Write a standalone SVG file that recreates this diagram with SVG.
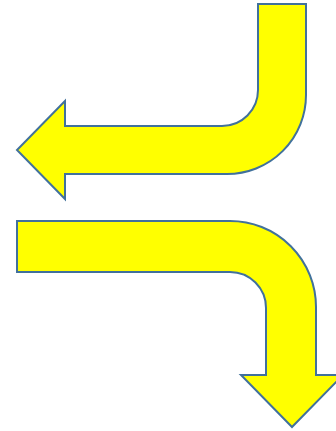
<svg xmlns="http://www.w3.org/2000/svg" width="336" height="431" viewBox="0 0 336 431">
<style>
.arrow{fill:#FFFF00;stroke:#41719C;stroke-width:2;stroke-linejoin:miter}
</style>
<rect width="336" height="431" fill="#FFFFFF"/>
<g id="arrow-top">
<path class="arrow" d="M258,4 H306 V95 A79,79 0 0 1 227,174 H65 V199 L17,150 L65,101 V126 H222 A36,36 0 0 0 258,90 Z"/>
</g>
<g id="arrow-bottom">
<path class="arrow" d="M17,221 H230 A86,86 0 0 1 316,307 V375 H343 L292,427 L241,375 H266 V308 A36,36 0 0 0 230,272 H17 Z"/>
</g>
</svg>
